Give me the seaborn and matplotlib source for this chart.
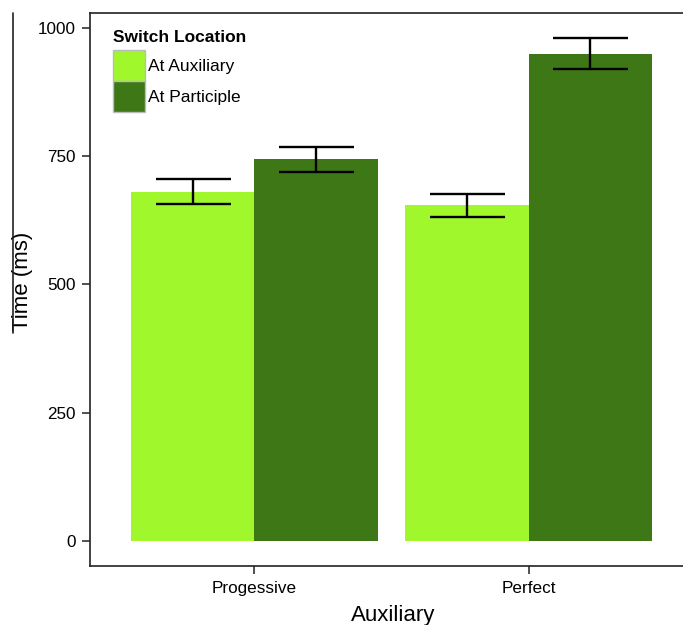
import numpy as np
import pandas as pd
import seaborn as sns
import matplotlib.pyplot as plt
from matplotlib.patches import Patch
from matplotlib.lines import Line2D

# data
auxiliary = ['Progessive', 'Perfect']
switch_location = ['At Auxiliary', 'At Participle']
mean_aux = [681, 654]
mean_part = [744, 950]
err_aux = [24.5, 22]
err_part = [24, 30]

colors = {'At Auxiliary': '#9ff72c', 'At Participle': '#3d7716'}

df = pd.DataFrame({
    'Auxiliary': auxiliary * 2,
    'Switch Location': [switch_location[0]] * 2 + [switch_location[1]] * 2,
    'Time': mean_aux + mean_part,
    'err': err_aux + err_part,
})

sns.set_style('white')
plt.rcParams['font.family'] = ['Liberation Sans', 'DejaVu Sans']
plt.rcParams['text.color'] = 'black'

W, H = 683, 625
fig = plt.figure(figsize=(W / 100, H / 100), dpi=100)
ax = fig.add_axes([90 / W, (H - 566) / H, (693 - 90) / W, (566 - 13) / H])

sns.barplot(data=df, x='Auxiliary', y='Time', hue='Switch Location',
            order=auxiliary, hue_order=switch_location, palette=colors,
            errorbar=None, width=0.9, saturation=1, linewidth=0, ax=ax)

# error bars at the bar centres
for patch, (_, row) in zip(ax.patches, df.iterrows()):
    xc = patch.get_x() + patch.get_width() / 2
    ax.errorbar(xc, row['Time'], yerr=row['err'], fmt='none', ecolor='black',
                elinewidth=1.7, capsize=27, capthick=1.7)

ax.set_xlim(-0.6, 1.6)
ax.set_ylim(-48.7, 1029)
ax.set_yticks([0, 250, 500, 750, 1000])
ax.set_yticklabels(['0', '250', '500', '750', '1000'])
ax.tick_params(axis='both', direction='out', length=6, width=1.2, color='#333333',
               labelsize=12.3, labelcolor='black', left=True, bottom=True)
ax.tick_params(axis='y', pad=4)
ax.tick_params(axis='x', pad=5)
for s in ['left', 'bottom', 'top']:
    ax.spines[s].set_visible(True)
    ax.spines[s].set_color('#222222')
    ax.spines[s].set_linewidth(1.2)
ax.spines['right'].set_visible(False)
ax.set_xlabel('Auxiliary', fontsize=16, color='black')
ax.set_ylabel('Time (ms)', fontsize=16, color='black')
ax.xaxis.set_label_coords(0.5025, -0.071)
ax.yaxis.set_label_coords(-0.0945, 0.515)

# legend
handles = [Patch(facecolor=colors[k], edgecolor='#bbbbbb', linewidth=1.0) for k in switch_location]
leg = ax.legend(handles, switch_location, title='Switch Location', loc='upper left',
                bbox_to_anchor=(113 / W, 1 - 30 / H), bbox_transform=fig.transFigure,
                frameon=False, fontsize=12.5, title_fontsize=12.5, borderpad=0,
                borderaxespad=0, handlelength=1.84, handleheight=2.37, labelspacing=0,
                handletextpad=0.15, alignment='left', labelcolor='black')
leg.get_title().set_fontweight('bold')
leg.get_title().set_color('black')
leg._legend_box.sep = 3.5  # gap between title and keys

# stray border line on the left of the image
fig.add_artist(Line2D([12.5 / W, 12.5 / W], [1 - 13 / H, 1 - 333 / H],
                      transform=fig.transFigure, color='#222222', linewidth=1.2))

fig.savefig('out.png', dpi=100)
